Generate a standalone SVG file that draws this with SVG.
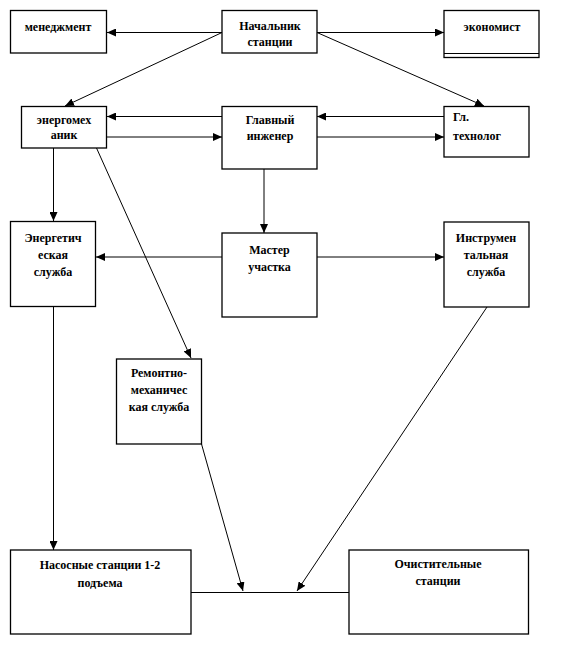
<svg xmlns="http://www.w3.org/2000/svg" width="561" height="656" viewBox="0 0 561 656">
<style>
.box{fill:#fff;stroke:#000;stroke-width:1.3}
.t{font-family:"Liberation Serif","Times New Roman",serif;font-size:12px;font-weight:bold;fill:#000;text-anchor:middle}
.l{text-anchor:start}
.c{stroke:#000;stroke-width:1;fill:none}
.a{marker-end:url(#ah)}
</style>
<defs>
<marker id="ah" markerUnits="userSpaceOnUse" markerWidth="10" markerHeight="8" refX="9" refY="4" orient="auto">
<path d="M0,0 L9,4 L0,8 Z" fill="#000"/>
</marker>
</defs>
<rect width="561" height="656" fill="#fff"/>
<g id="connectors">
<line class="c a" x1="222" y1="32.5" x2="107" y2="32.5"/>
<line class="c a" x1="317" y1="32.5" x2="444" y2="32.5"/>
<line class="c a" x1="222" y1="32.5" x2="65" y2="106"/>
<line class="c a" x1="317" y1="32.5" x2="484" y2="106"/>
<line class="c a" x1="222" y1="116.5" x2="107" y2="116.5"/>
<line class="c a" x1="107" y1="137" x2="222" y2="137"/>
<line class="c a" x1="444" y1="116.5" x2="317" y2="116.5"/>
<line class="c a" x1="317" y1="137" x2="444" y2="137"/>
<line class="c a" x1="53.5" y1="148" x2="53.5" y2="221"/>
<line class="c a" x1="96.5" y1="148" x2="191" y2="358"/>
<line class="c a" x1="264" y1="169" x2="264" y2="233"/>
<line class="c a" x1="222" y1="257" x2="96" y2="257"/>
<line class="c a" x1="317" y1="257" x2="444" y2="257"/>
<line class="c a" x1="53.5" y1="307" x2="53.5" y2="550"/>
<line class="c a" x1="201.5" y1="444" x2="243" y2="591"/>
<line class="c a" x1="487" y1="307" x2="297" y2="591"/>
<line class="c" x1="191" y1="592.5" x2="349" y2="592.5"/>
</g>
<g id="n-management"><rect class="box" x="10.5" y="10.5" width="96" height="42.5"/><text class="t" x="58" y="30.5">менеджмент</text></g>
<g id="n-chief"><rect class="box" x="222" y="10.5" width="95" height="42.5"/><text class="t" x="270" y="29.5">Начальник</text><text class="t" x="270" y="45.5">станции</text></g>
<g id="n-economist"><rect class="box" x="444" y="10.5" width="95" height="47"/><line class="c" x1="444" y1="53.5" x2="539" y2="53.5" stroke-width="1.3"/><text class="t" x="492" y="30.5">экономист</text></g>
<g id="n-energomech"><rect class="box" x="21.5" y="106.5" width="85" height="41.5"/><text class="t" x="64" y="123.5">энергомех</text><text class="t" x="64" y="139">аник</text></g>
<g id="n-engineer"><rect class="box" x="222" y="106.5" width="95" height="62.5"/><text class="t" x="270" y="124">Главный</text><text class="t" x="270" y="139.5">инженер</text></g>
<g id="n-technologist"><rect class="box" x="444" y="106.5" width="85" height="50.5"/><text class="t l" x="453" y="121">Гл.</text><text class="t l" x="453" y="139.5">технолог</text></g>
<g id="n-energy"><rect class="box" x="10.5" y="221.5" width="85" height="85"/><text class="t" x="53" y="242">Энергетич</text><text class="t" x="53" y="258.5">еская</text><text class="t" x="53" y="276">служба</text></g>
<g id="n-master"><rect class="box" x="222" y="233" width="95" height="84"/><text class="t" x="269.5" y="254">Мастер</text><text class="t" x="269.5" y="271">участка</text></g>
<g id="n-instrument"><rect class="box" x="444" y="222" width="85" height="85"/><text class="t" x="486" y="242">Инструмен</text><text class="t" x="486" y="258.5">тальная</text><text class="t" x="486" y="276">служба</text></g>
<g id="n-repair"><rect class="box" x="116.5" y="359" width="85" height="85"/><text class="t" x="159" y="377">Ремонтно-</text><text class="t" x="159" y="394">механичес</text><text class="t" x="159" y="411">кая служба</text></g>
<g id="n-pumping"><rect class="box" x="10.5" y="550" width="180.5" height="84"/><text class="t" x="100" y="569">Насосные станции 1-2</text><text class="t" x="100" y="587">подъема</text></g>
<g id="n-treatment"><rect class="box" x="349" y="550" width="179.5" height="84"/><text class="t" x="438" y="568">Очистительные</text><text class="t" x="438" y="585">станции</text></g>
</svg>
